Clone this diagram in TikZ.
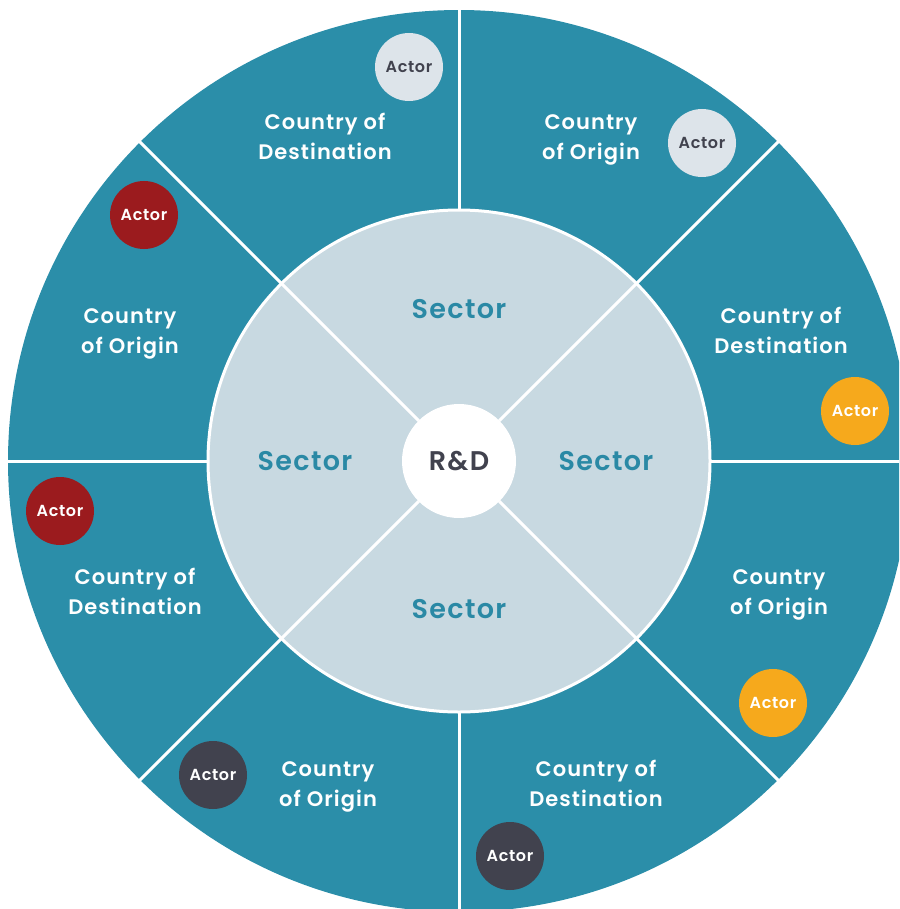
\documentclass[tikz,border=0pt]{standalone}
\usepackage{fontspec}
\usetikzlibrary{calc}
\setmainfont{Poppins}[UprightFont=* Medium, BoldFont=* SemiBold]
\newfontfamily\widefont{Poppins}[UprightFont=* SemiBold, LetterSpace=5]
\newfontfamily\actfont{Poppins}[UprightFont=* SemiBold, LetterSpace=4]
\definecolor{teal}{HTML}{2B8EA9}
\definecolor{pale}{HTML}{C8D9E1}
\definecolor{actlight}{HTML}{DDE4EA}
\definecolor{actred}{HTML}{9B1B1E}
\definecolor{actorange}{HTML}{F6A91C}
\definecolor{actdark}{HTML}{41424E}
\definecolor{ink}{HTML}{41424E}
\definecolor{sectxt}{HTML}{2A89A5}
\tikzset{
  sep/.style={white, line width=3pt},
  ctry/.style={white, font=\widefont\fontsize{21}{30}\selectfont, align=center},
  sect/.style={sectxt, font=\widefont\fontsize{27}{30}\selectfont},
  actor/.style={circle, minimum size=68pt, inner sep=0pt, font=\actfont\fontsize{16}{18}\selectfont},
}
\begin{document}
\begin{tikzpicture}[x=1pt,y=-1pt]
\useasboundingbox (0,0) rectangle (899,909);
\clip (0,0) rectangle (899,909);
\coordinate (c) at (459,461);
\fill[teal] (c) circle (451);
\fill[pale] (c) circle (251);
% separators
\foreach \a in {0,90,180,270} \draw[sep] ($(c)+(\a:251)$) -- ($(c)+(\a:460)$);
\foreach \a in {45,135,225,315} \draw[sep] ($(c)+(\a:57)$) -- ($(c)+(\a:460)$);
\draw[sep] (c) circle (251);
\node[circle, fill=white, minimum size=114pt, inner sep=0pt, text=ink, font=\widefont\fontsize{27}{30}\selectfont] (rd) at (c) {R\&D};
% sectors
\node[sect] (s1) at (459,309) {Sector};
\node[sect] (s2) at (305,461) {Sector};
\node[sect] (s3) at (606,461) {Sector};
\node[sect] (s4) at (459,609) {Sector};
% countries
\node[ctry] (c1) at (325,136) {Country of\\Destination};
\node[ctry] (c2) at (591,139.5) {Country\\of Origin};
\node[ctry] (c3) at (130,333.5) {Country\\of Origin};
\node[ctry] (c4) at (781,330) {Country of\\Destination};
\node[ctry] (c5) at (135,591) {Country of\\Destination};
\node[ctry] (c6) at (779,594.5) {Country\\of Origin};
\node[ctry] (c7) at (328,786.5) {Country\\of Origin};
\node[ctry] (c8) at (596,783) {Country of\\Destination};
% actors
\node[actor, fill=actlight, text=ink] (a1) at (409,67) {Actor};
\node[actor, fill=actlight, text=ink] (a2) at (702,143) {Actor};
\node[actor, fill=actred, text=white] (a3) at (144,215) {Actor};
\node[actor, fill=actorange, text=white] (a4) at (855,411) {Actor};
\node[actor, fill=actred, text=white] (a5) at (60,511) {Actor};
\node[actor, fill=actorange, text=white] (a6) at (773,703) {Actor};
\node[actor, fill=actdark, text=white] (a7) at (213,775) {Actor};
\node[actor, fill=actdark, text=white] (a8) at (510,856) {Actor};
\end{tikzpicture}
\end{document}
